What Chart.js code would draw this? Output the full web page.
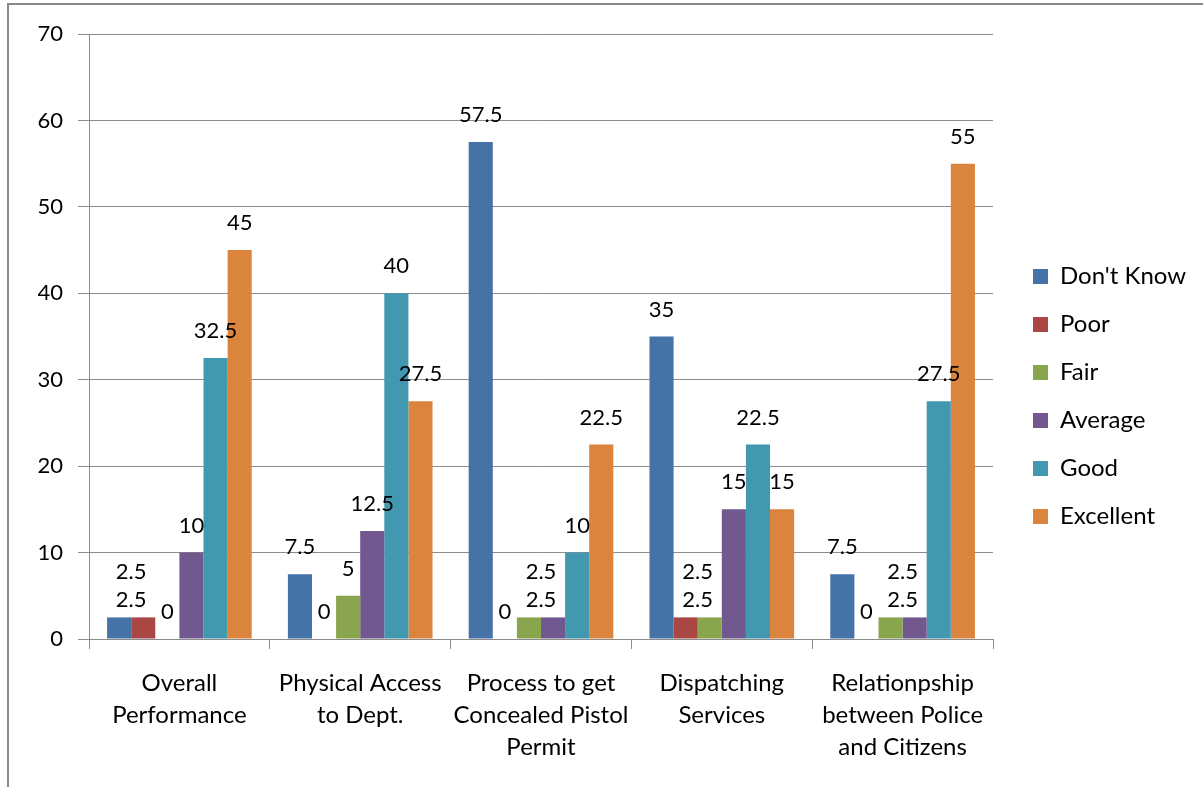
<!DOCTYPE html>
<html><head><meta charset="utf-8">
<script src="https://cdn.jsdelivr.net/npm/chart.js@4"></script>
<style>
html,body{margin:0;padding:0;background:#fff;overflow:hidden;}
#wrap{position:relative;width:1203px;height:787px;}
#frame{position:absolute;left:7px;top:3px;right:-5px;bottom:-5px;border-left:2px solid #8a8a8a;border-top:2px solid #8a8a8a;pointer-events:none;}
canvas{position:absolute;left:0;top:0;}
</style></head><body>
<div id="wrap"><canvas id="c" width="1203" height="787"></canvas><div id="frame"></div></div>
<script>
const categories = [["Overall","Performance"],["Physical Access","to Dept."],["Process to get","Concealed Pistol","Permit"],["Dispatching","Services"],["Relationpship","between Police","and Citizens"]];
const seriesNames = ["Don't Know","Poor","Fair","Average","Good","Excellent"];
const dontKnow = [2.5, 7.5, 57.5, 35, 7.5];
const poor = [2.5, 0, 0, 2.5, 0];
const fair = [0, 5, 2.5, 2.5, 2.5];
const average = [10, 12.5, 2.5, 15, 2.5];
const good = [32.5, 40, 10, 22.5, 27.5];
const excellent = [45, 27.5, 22.5, 15, 55];
const yTicks = [0, 10, 20, 30, 40, 50, 60, 70];

const seriesValues = [dontKnow, poor, fair, average, good, excellent];
const colors = ['#4572A7','#AA4643','#89A54E','#71588F','#4198AF','#DB843D'];
const FONT = 'Lato, "Noto Sans", sans-serif';
const GRID = '#8c8c8c';

Chart.defaults.font.family = FONT;
Chart.defaults.font.size = 22;
Chart.defaults.color = '#000';

const labelPlugin = {
  id: 'barLabels',
  afterDatasetsDraw(chart) {
    const ctx = chart.ctx;
    ctx.save();
    ctx.font = '22px ' + FONT;
    ctx.fillStyle = '#000';
    ctx.textAlign = 'center';
    ctx.textBaseline = 'middle';
    const nCat = chart.data.labels.length;
    for (let j = 0; j < nCat; j++) {
      const placed = [];
      chart.data.datasets.forEach((ds, i) => {
        const el = chart.getDatasetMeta(i).data[j];
        const txt = String(ds.data[j]);
        const lab = {txt, bx: el.x, x: el.x, y: el.y - 27, w: ctx.measureText(txt).width};
        for (const p of placed) {
          if (Math.abs(p.x - lab.x) < (p.w + lab.w) / 2 && Math.abs(p.y - lab.y) < 20) {
            const mx = (p.bx + lab.bx) / 2;
            p.x = mx; lab.x = mx;
            p.y += 10;
            lab.y = p.y - 28;
            break;
          }
        }
        placed.push(lab);
      });
      placed.forEach(l => ctx.fillText(l.txt, l.x, l.y));
    }
    ctx.restore();
  }
};

const legendPlacer = {
  id: 'legendPlacer',
  beforeLayout(chart) {
    const lg = chart.legend;
    if (lg && !lg._patched) {
      const orig = lg.fit;
      lg.fit = function() { orig.call(this); this.width = 210; };
      lg._patched = true;
    }
  },
  afterLayout(chart) {
    const lg = chart.legend;
    lg.left += 16; lg.right += 16;
    lg.top -= 14; lg.bottom -= 14;
  }
};

new Chart(document.getElementById('c'), {
  type: 'bar',
  data: {
    labels: categories,
    datasets: seriesNames.map((name, i) => ({
      label: name,
      data: seriesValues[i],
      backgroundColor: colors[i],
      borderWidth: 0,
      categoryPercentage: 0.8,
      barPercentage: 1.0
    }))
  },
  options: {
    responsive: false,
    animation: false,
    devicePixelRatio: 1,
    layout: { padding: { left: 0, top: 34, right: 0, bottom: 0 } },
    plugins: {
      tooltip: { enabled: false },
      legend: {
        position: 'right',
        labels: {
          boxWidth: 15, boxHeight: 15, padding: 24,
          font: { size: 24, family: FONT }, color: '#000'
        }
      }
    },
    scales: {
      x: {
        grid: { offset: true, drawOnChartArea: false, drawTicks: true, tickLength: 10, color: GRID },
        border: { display: true, color: GRID },
        ticks: { font: { size: 24, lineHeight: 1.3333 }, color: '#000', padding: 18, maxRotation: 0, autoSkip: false },
        afterFit(s) { s.height = 787 - 639; }
      },
      y: {
        min: 0, max: 70,
        afterBuildTicks(s) { s.ticks = yTicks.map(v => ({ value: v })); },
        grid: { color: GRID, tickLength: 11, drawTicks: true },
        border: { display: true, color: GRID },
        ticks: { font: { size: 22 }, color: '#000', padding: 15 },
        afterFit(s) { s.width = 89; }
      }
    }
  },
  plugins: [labelPlugin, legendPlacer]
});
</script>
</body></html>
